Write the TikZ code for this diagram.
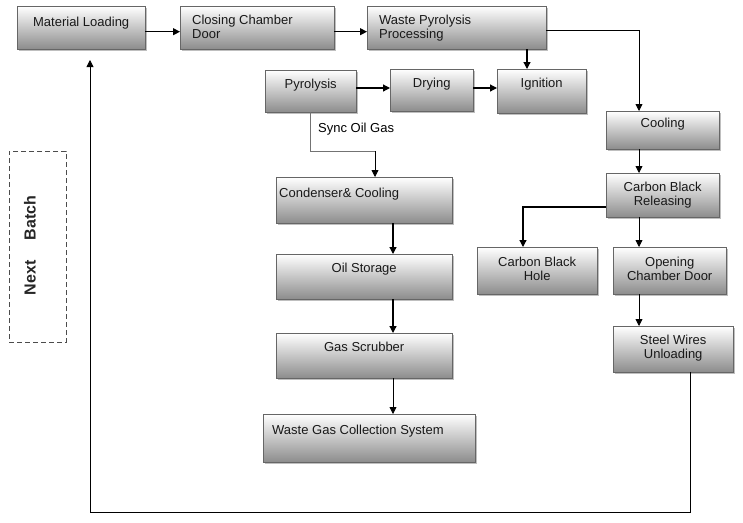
\documentclass[tikz,border=0pt]{standalone}
\usepackage{fontspec}
\setmainfont{Liberation Sans}
\usetikzlibrary{arrows.meta,shadows}

\tikzset{
  stage/.style={rectangle, anchor=north west, inner sep=0pt, draw=black!60,
    top color=white, bottom color=black!45,
    drop shadow={shadow xshift=2pt, shadow yshift=-2pt, fill=black!50, opacity=0.5}},
  stagetext/.style={anchor=north, yshift=-9pt, inner sep=0pt, align=center,
    text=black!90, font=\fontsize{13}{14}\selectfont},
  stageleft/.style={stagetext, anchor=north west, align=left, xshift=12pt},
  flow/.style={-{Triangle[length=7pt,width=7pt]}, line width=1.2pt},
  thinflow/.style={flow, line width=0.8pt},
}

\begin{document}
\begin{tikzpicture}[x=1pt, y=-1pt]
      \useasboundingbox (0,0) rectangle (743,522);
      %Top row
      \node[stage, minimum width=128pt, minimum height=43pt, label={[stagetext, yshift=-2pt]north:Material Loading}] (load) at (17,6) {};
      \node[stage, minimum width=154pt, minimum height=43pt, label={[stageleft]north west:{Closing Chamber\\Door}}] (close) at (180,6) {};
      \node[stage, minimum width=179pt, minimum height=43pt, label={[stageleft]north west:{Waste Pyrolysis\\Processing}}] (process) at (367,6) {};
      %Pyrolysis row
      \node[stage, minimum width=91pt, minimum height=42pt, label={[stagetext]north:Pyrolysis}] (pyro) at (265,70) {};
      \node[stage, minimum width=83pt, minimum height=42pt, label={[stagetext]north:Drying}] (dry) at (390,69) {};
      \node[stage, minimum width=89pt, minimum height=44pt, label={[stagetext]north:Ignition}] (ignite) at (497,69) {};
      %Oil and gas column
      \node[stage, minimum width=176pt, minimum height=46pt, label={[stageleft, xshift=-9pt, yshift=-2pt]north west:Condenser\& Cooling}] (condense) at (276,177) {};
      \node[stage, minimum width=176pt, minimum height=45pt, label={[stagetext]north:Oil Storage}] (storage) at (276,254) {};
      \node[stage, minimum width=176pt, minimum height=45pt, label={[stagetext]north:Gas Scrubber}] (scrub) at (276,333) {};
      \node[stage, minimum width=212pt, minimum height=48pt, label={[stageleft, xshift=-3pt, yshift=-2pt]north west:Waste Gas Collection System}] (collect) at (263,414) {};
      %Carbon black column
      \node[stage, minimum width=113pt, minimum height=38pt, label={[stagetext, yshift=2pt]north:Cooling}] (cool) at (606,111) {};
      \node[stage, minimum width=113pt, minimum height=44pt, label={[stagetext]north:{Carbon Black\\Releasing}}] (release) at (606,173) {};
      \node[stage, minimum width=120pt, minimum height=47pt, label={[stagetext, yshift=-1pt]north:{Carbon Black\\Hole}}] (hole) at (477,247) {};
      \node[stage, minimum width=113pt, minimum height=47pt, label={[stagetext, yshift=-1pt]north:{Opening\\Chamber Door}}] (open) at (613,247) {};
      \node[stage, minimum width=120pt, minimum height=46pt, label={[stagetext]north:{Steel Wires\\Unloading}}] (unload) at (613,326) {};
      %Next batch
      \node[draw=black!70, dash pattern=on 5pt off 3pt, anchor=north west, minimum width=57pt, minimum height=191pt, inner sep=0pt] (batch) at (9,151) {};
      \node[rotate=90, inner sep=0pt, text=black!85, font=\bfseries\fontsize{16}{16}\selectfont] (batchtext) at (30,245.5) {Next\hspace{20pt}Batch};
      \node[anchor=west, inner sep=0pt, font=\fontsize{13}{13}\selectfont] (oilgas) at (318,129) {Sync Oil Gas};
      %Bends
      \coordinate (row) at (0,88);
      \coordinate (col) at (639,0);
      \coordinate (drop) at (527,0);
      \coordinate (gascol) at (393,0);
      \coordinate (oilbend) at (375,151);
      \coordinate (holebend) at (523,207);
      \coordinate (loopdown) at (690,512);
      \coordinate (loopup) at (90,60);
      %Arrows
      \draw[flow] ([yshift=-4pt]load.east) -- ([yshift=-4pt]close.west);
      \draw[flow] ([yshift=-4pt]close.east) -- ([yshift=-4pt]process.west);
      \draw[thinflow] ([yshift=-3pt]process.east) -| (cool.north -| col);
      \draw[flow] (process.south -| drop) -- (ignite.north -| drop);
      \draw[flow] (pyro.east |- row) -- (dry.west |- row);
      \draw[flow] (dry.east |- row) -- (ignite.west |- row);
      \draw[black!55, line width=0.6pt] (pyro.south) |- (oilbend);
      \draw[thinflow] (oilbend) -- (condense.north -| oilbend);
      \draw[flow] (condense.south -| gascol) -- (storage.north -| gascol);
      \draw[flow] (storage.south -| gascol) -- (scrub.north -| gascol);
      \draw[thinflow] (scrub.south -| gascol) -- (collect.north -| gascol);
      \draw[thinflow] (cool.south -| col) -- (release.north -| col);
      \draw[flow] (release.west |- holebend) -| (hole.north -| holebend);
      \draw[thinflow] (release.south -| col) -- (open.north -| col);
      \draw[thinflow] (open.south -| col) -- (unload.north -| col);
      \draw[thinflow] (unload.south -| loopdown) -- (loopdown) -- (loopdown -| loopup) -- (loopup);
    \end{tikzpicture}
\end{document}
